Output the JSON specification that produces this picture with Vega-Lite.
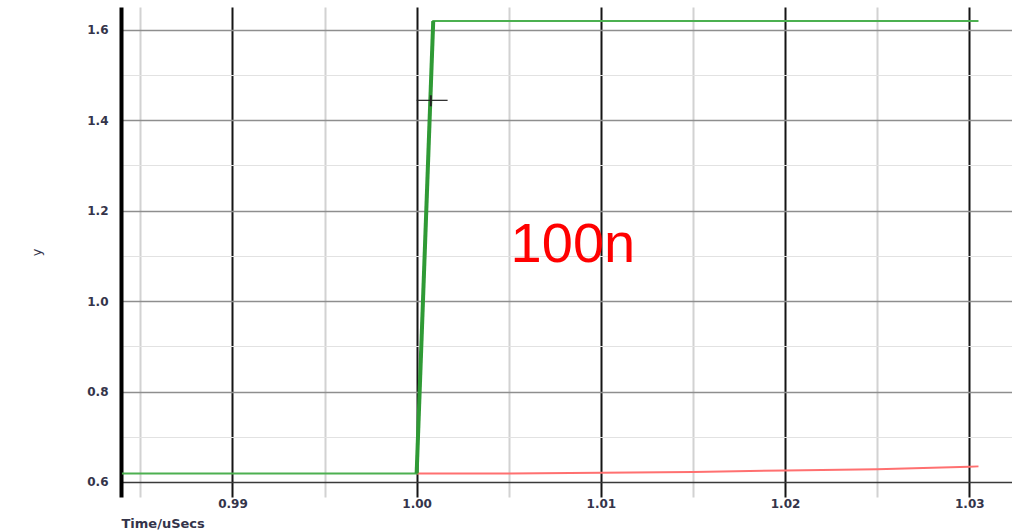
{
  "$schema": "https://vega.github.io/schema/vega-lite/v6.json",
  "width": 891,
  "height": 490,
  "autosize": {"type": "none"},
  "padding": {"left": 121, "top": 7, "right": 0, "bottom": 34},
  "background": "white",
  "config": {
    "view": {"stroke": null},
    "axis": {
      "labelFont": "DejaVu Sans",
      "labelFontWeight": "bold",
      "labelFontSize": 12,
      "labelColor": "#34344a",
      "titleFont": "DejaVu Sans",
      "titleFontWeight": "bold",
      "titleFontSize": 13,
      "titleColor": "#34344a",
      "ticks": false
    }
  },
  "datasets": {
    "trace": [
      {"t": 0.984, "v": 0.619, "series": "out"},
      {"t": 1.0, "v": 0.619, "series": "out"},
      {"t": 1.0009, "v": 1.619, "series": "out"},
      {"t": 1.0305, "v": 1.619, "series": "out"}
    ],
    "edge": [
      {"t": 1.0, "v": 0.619},
      {"t": 1.0009, "v": 1.619}
    ],
    "ref": [
      {"t": 1.0, "v": 0.6186},
      {"t": 1.005, "v": 0.619},
      {"t": 1.01, "v": 0.6206},
      {"t": 1.015, "v": 0.6222},
      {"t": 1.02, "v": 0.6254},
      {"t": 1.025, "v": 0.6283},
      {"t": 1.03, "v": 0.6338},
      {"t": 1.0305, "v": 0.6345}
    ],
    "cursorH": [{"t": 1.0, "t2": 1.00168, "v": 1.4437}],
    "cursorV": [{"t": 1.00077, "v": 1.4305, "v2": 1.4548}],
    "note": [{"t": 1.0051, "v": 1.0863, "label": "100n"}]
  },
  "encoding": {
    "x": {
      "field": "t",
      "type": "quantitative",
      "scale": {"domain": [0.98395, 1.03232], "nice": false, "zero": false},
      "axis": {
        "title": "Time/uSecs",
        "values": [0.985, 0.99, 0.995, 1.0, 1.005, 1.01, 1.015, 1.02, 1.025, 1.03],
        "labelExpr": "abs(round(datum.value * 100) - datum.value * 100) < 0.000001 ? format(datum.value, '.2f') : ''",
        "labelPadding": 1,
        "labelBaseline": "top",
        "domain": false,
        "grid": true,
        "gridColor": {
          "condition": {"test": "abs(round(datum.value * 100) - datum.value * 100) < 0.000001", "value": "#151515"},
          "value": "#d2d2d2"
        },
        "gridWidth": 2,
        "titleAnchor": "start",
        "titleAlign": "left",
        "titleBaseline": "middle",
        "titleX": 0,
        "titleY": 26
      }
    },
    "y": {
      "field": "v",
      "type": "quantitative",
      "scale": {"domain": [0.5668, 1.65], "nice": false, "zero": false},
      "axis": {
        "title": "y",
        "titleFontWeight": "normal",
        "titleFontSize": 13,
        "values": [0.6, 0.7, 0.8, 0.9, 1.0, 1.1, 1.2, 1.3, 1.4, 1.5, 1.6],
        "labelExpr": "abs(round(datum.value * 5) - datum.value * 5) < 0.000001 ? format(datum.value, '.1f') : ''",
        "labelPadding": 13,
        "domain": true,
        "domainColor": "#000000",
        "domainWidth": 4,
        "grid": true,
        "gridColor": {
          "condition": [
            {"test": "abs(datum.value - 0.6) < 0.000001", "value": "#3a3a3a"},
            {"test": "abs(round(datum.value * 5) - datum.value * 5) < 0.000001", "value": "#8e8e8e"}
          ],
          "value": "#e2e2e2"
        },
        "gridWidth": {
          "condition": {"test": "abs(round(datum.value * 5) - datum.value * 5) < 0.000001", "value": 1.5},
          "value": 1
        },
        "titleX": -85,
        "titleY": 245,
        "titleAngle": -90,
        "titleAlign": "center",
        "titleBaseline": "middle"
      }
    }
  },
  "layer": [
    {
      "data": {"name": "ref"},
      "mark": {"type": "line", "color": "#ff7070", "strokeWidth": 2, "clip": true}
    },
    {
      "data": {"name": "trace"},
      "mark": {"type": "line", "color": "#4cb050", "strokeWidth": 2, "clip": true}
    },
    {
      "data": {"name": "edge"},
      "mark": {"type": "line", "color": "#2f9a35", "strokeWidth": 4, "clip": true}
    },
    {
      "data": {"name": "cursorH"},
      "mark": {"type": "rule", "color": "#222222", "strokeWidth": 1.2},
      "encoding": {"x2": {"field": "t2"}}
    },
    {
      "data": {"name": "cursorV"},
      "mark": {"type": "rule", "color": "#222222", "strokeWidth": 2},
      "encoding": {"y2": {"field": "v2"}}
    },
    {
      "data": {"name": "note"},
      "mark": {
        "type": "text",
        "font": "Liberation Sans",
        "fontSize": 56,
        "color": "#ff0000",
        "align": "left",
        "baseline": "alphabetic"
      },
      "encoding": {"text": {"field": "label"}}
    }
  ]
}
